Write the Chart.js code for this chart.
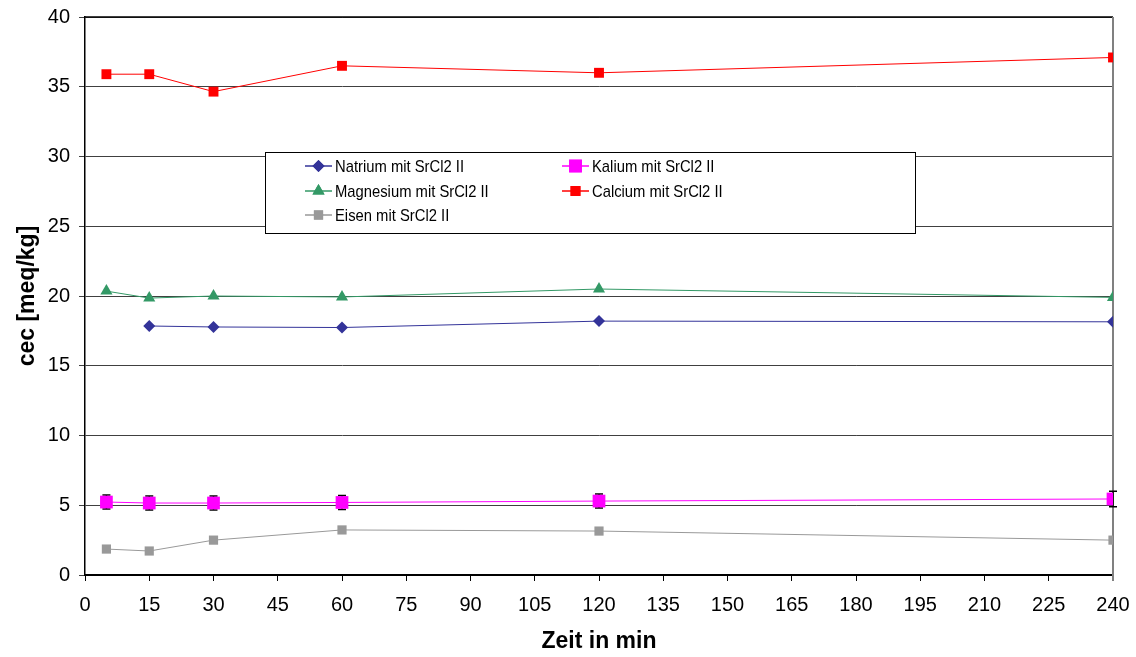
<!DOCTYPE html>
<html>
<head>
<meta charset="utf-8">
<style>
  html, body { margin: 0; padding: 0; background: #fff; }
  #wrap { width: 1136px; height: 657px; position: relative; }
</style>
<script src="https://cdn.jsdelivr.net/npm/chart.js@4/dist/chart.umd.min.js"></script>
</head>
<body>
<div id="wrap"><canvas id="c" width="1136" height="657"></canvas></div>
<script>
// Sampling times (minutes)
const zeit = [5, 15, 30, 60, 120, 240];

// Cation exchange capacity per element, meq/kg
const natrium   = [null, 17.85, 17.78, 17.74, 18.2, 18.15];
const kalium    = [5.23, 5.16, 5.16, 5.2, 5.3, 5.45];
const kaliumErr = [0.5, 0.5, 0.5, 0.5, 0.5, 0.55];
const magnesium = [20.35, 19.85, 20.0, 19.93, 20.5, 19.9];
const calcium   = [35.9, 35.9, 34.65, 36.5, 36.0, 37.1];
const eisen     = [1.86, 1.72, 2.5, 3.23, 3.15, 2.5];

const seriesNames = [
  'Natrium mit SrCl2 II',
  'Kalium mit SrCl2 II',
  'Magnesium mit SrCl2 II',
  'Calcium mit SrCl2 II',
  'Eisen mit SrCl2 II'
];

const xTicks = { min: 0, max: 240, step: 15 };
const yTicks = { min: 0, max: 40, step: 5 };

const FONT = "'Liberation Sans', Arial, Helvetica, sans-serif";

function pts(values) {
  return zeit.map((t, i) => ({ x: t, y: values[i] }));
}

function ds(label, values, color, style, radius) {
  return {
    label: label,
    data: pts(values),
    borderColor: color,
    backgroundColor: color,
    borderWidth: 1,
    pointStyle: style,
    pointRadius: radius,
    pointHoverRadius: radius,
    pointBorderWidth: 0,
    pointBackgroundColor: color,
    spanGaps: false,
    tension: 0,
    fill: false
  };
}

const datasets = [
  ds(seriesNames[0], natrium,   '#333399', 'rectRot',  6),
  ds(seriesNames[1], kalium,    '#FF00FF', 'rect',     9),
  ds(seriesNames[2], magnesium, '#339966', 'triangle', 7),
  ds(seriesNames[3], calcium,   '#FF0000', 'rect',     7),
  ds(seriesNames[4], eisen,     '#999999', 'rect',     6.5)
];
datasets[1].errors = kaliumErr;

// Error bars drawn underneath the Kalium markers
const errorBars = {
  id: 'errorBars',
  beforeDatasetDraw(chart, args) {
    const d = chart.data.datasets[args.index];
    if (!d.errors) return;
    const { ctx, scales: { x, y } } = chart;
    ctx.save();
    ctx.strokeStyle = '#000';
    ctx.lineWidth = 1.5;
    d.data.forEach((p, i) => {
      if (p.y == null) return;
      const px = x.getPixelForValue(p.x);
      const yTop = y.getPixelForValue(p.y + d.errors[i]);
      const yBot = y.getPixelForValue(p.y - d.errors[i]);
      ctx.beginPath();
      ctx.moveTo(px, yTop); ctx.lineTo(px, yBot);
      ctx.moveTo(px - 4, yTop); ctx.lineTo(px + 4, yTop);
      ctx.moveTo(px - 4, yBot); ctx.lineTo(px + 4, yBot);
      ctx.stroke();
    });
    ctx.restore();
  }
};

// Frame: black top edge, grey right edge
const frame = {
  id: 'frame',
  beforeDatasetsDraw(chart) {
    const { ctx, chartArea: a } = chart;
    ctx.save();
    ctx.strokeStyle = '#000';
    ctx.lineWidth = 1.5;
    ctx.beginPath();
    ctx.moveTo(a.left, a.top); ctx.lineTo(a.right, a.top);
    ctx.stroke();
    ctx.strokeStyle = '#808080';
    ctx.lineWidth = 2;
    ctx.beginPath();
    ctx.moveTo(a.right, a.top); ctx.lineTo(a.right, a.bottom + 6);
    ctx.stroke();
    ctx.restore();
  }
};

// Boxed legend inside the plot area, two columns
const boxLegend = {
  id: 'boxLegend',
  afterDatasetsDraw(chart) {
    const { ctx, chartArea: a } = chart;
    const bx = Math.round(a.left + 0.175 * a.width);
    const bw = Math.round(0.6325 * a.width);
    const by = Math.round(a.top + 0.242 * a.height);
    const bh = Math.round(0.145 * a.height);
    ctx.save();
    ctx.fillStyle = '#fff';
    ctx.fillRect(bx, by, bw, bh);
    ctx.strokeStyle = '#000';
    ctx.lineWidth = 1;
    ctx.strokeRect(bx + 0.5, by + 0.5, bw, bh);
    const colX = [bx + 40, bx + 297];
    const rowY = [by + 14, by + 39, by + 63];
    const order = [[0, 0, 0], [1, 1, 0], [2, 0, 1], [3, 1, 1], [4, 0, 2]];
    order.forEach(([di, c, r]) => {
      const d = chart.data.datasets[di];
      const x0 = colX[c], yy = rowY[r];
      ctx.strokeStyle = d.borderColor;
      ctx.lineWidth = 1.5;
      ctx.beginPath();
      ctx.moveTo(x0, yy); ctx.lineTo(x0 + 27, yy);
      ctx.stroke();
      ctx.fillStyle = d.pointBackgroundColor;
      Chart.helpers.drawPoint(ctx, {
        pointStyle: d.pointStyle,
        radius: d.pointRadius,
        borderWidth: 0,
        rotation: 0
      }, x0 + 13.5, yy);
      ctx.fill();
      // slightly condensed label text
      ctx.save();
      ctx.translate(x0 + 30, yy + 1);
      ctx.scale(0.87, 1);
      ctx.font = '17px ' + FONT;
      ctx.textBaseline = 'middle';
      ctx.textAlign = 'left';
      ctx.fillStyle = '#000';
      ctx.fillText(d.label, 0, 0);
      ctx.restore();
    });
    ctx.restore();
  }
};

new Chart(document.getElementById('c'), {
  type: 'line',
  data: { datasets: datasets },
  plugins: [frame, errorBars, boxLegend],
  options: {
    responsive: false,
    animation: false,
    devicePixelRatio: 1,
    layout: { padding: { left: 0, right: 23, top: 17, bottom: 0 } },
    plugins: {
      legend: { display: false },
      tooltip: { enabled: false }
    },
    scales: {
      x: {
        type: 'linear',
        min: xTicks.min,
        max: xTicks.max,
        afterFit(s) { s.height = 82; s.paddingLeft = 0; s.paddingRight = 0; },
        ticks: {
          stepSize: xTicks.step,
          color: '#000',
          font: { family: FONT, size: 20 },
          padding: 12,
          maxRotation: 0,
          autoSkip: false
        },
        grid: {
          drawOnChartArea: false,
          drawTicks: true,
          tickLength: 6,
          color: '#000',
          lineWidth: 1
        },
        border: { color: '#000', width: 2 },
        title: {
          display: true,
          text: 'Zeit in min',
          color: '#000',
          font: { family: FONT, size: 23, weight: 'bold' },
          padding: { top: 0, bottom: 2 }
        }
      },
      y: {
        type: 'linear',
        min: yTicks.min,
        max: yTicks.max,
        afterFit(s) { s.width = 85; s.paddingTop = 0; s.paddingBottom = 0; },
        ticks: {
          stepSize: yTicks.step,
          color: '#000',
          font: { family: FONT, size: 20 },
          padding: 9
        },
        grid: {
          drawOnChartArea: true,
          drawTicks: true,
          tickLength: 6,
          color: '#404040',
          lineWidth: 1
        },
        border: { color: '#000', width: 1.5 },
        title: {
          display: true,
          text: 'cec [meq/kg]',
          color: '#000',
          font: { family: FONT, size: 23, weight: 'bold' },
          padding: { top: 14, bottom: 0 }
        }
      }
    }
  }
});
</script>
</body>
</html>
